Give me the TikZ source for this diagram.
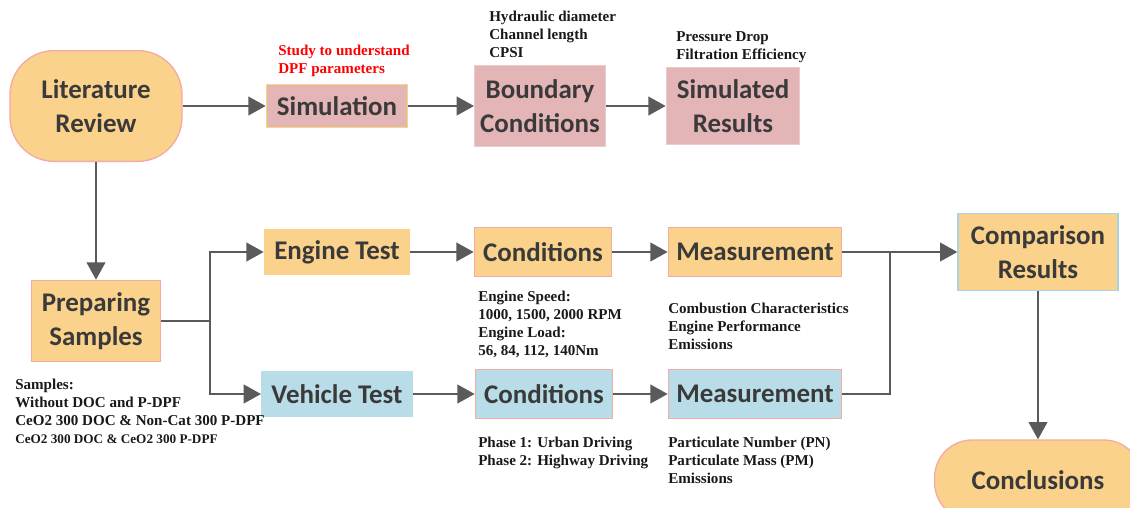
\documentclass[tikz,border=0pt]{standalone}
\usepackage{fontspec}
\setmainfont{Liberation Serif}
\newfontfamily\boxfont{Carlito}
\usetikzlibrary{arrows.meta}
\definecolor{boxorange}{HTML}{FAD28B}
\definecolor{boxpink}{HTML}{E4B5B7}
\definecolor{boxblue}{HTML}{B9DDE8}
\definecolor{edgepink}{HTML}{F3ABA3}
\definecolor{edgeyellow}{HTML}{F8D877}
\definecolor{edgeblue}{HTML}{A8D3E6}
\definecolor{linegray}{HTML}{5A5A5A}
\definecolor{textgray}{HTML}{3A3A3A}
\begin{document}
\begin{tikzpicture}[x=0.75pt, y=-0.75pt,
		box/.style = {draw=edgepink, line width=1pt, inner sep=0pt, align=center, text=textgray,
			font=\boxfont\bfseries\fontsize{20.2}{25.5}\selectfont},
		arr/.style = {draw=linegray, line width=1.6pt, -{Triangle[length=13pt,width=14pt]}},
		line/.style = {draw=linegray, line width=1.6pt},
		note/.style = {anchor=north west, inner sep=0pt, align=left, text=black!90,
			font=\bfseries\fontsize{11.3}{13.5}\selectfont}]
	\useasboundingbox (0,0) rectangle (1130,507);
	% top row: simulation
	\node[box, fill=boxorange, rounded corners=33pt, minimum width=129pt, minimum height=83pt] (lit) at (96,106) {Literature\\Review};
	\node[box, fill=boxpink, draw=edgeyellow, minimum width=106pt, minimum height=32pt] (sim) at (337,106) {Simulation};
	\node[box, fill=boxpink, draw=boxpink!70, minimum width=98pt, minimum height=61pt] (bc) at (540,106) {Boundary\\Conditions};
	\node[box, fill=boxpink, draw=boxpink!70, minimum width=100pt, minimum height=58pt] (sr) at (733,106) {Simulated\\Results};
	% middle and bottom rows: tests
	\node[box, fill=boxorange, minimum width=97pt, minimum height=61pt] (prep) at (96,321) {Preparing\\Samples};
	\node[box, fill=boxorange, draw=boxorange, minimum width=109pt, minimum height=33pt] (eng) at (337,252) {Engine Test};
	\node[box, fill=boxorange, minimum width=103pt, minimum height=37pt] (cond1) at (543,252) {Conditions};
	\node[box, fill=boxorange, minimum width=130pt, minimum height=37pt] (meas1) at (755,252) {Measurement};
	\node[box, fill=boxblue, draw=boxblue, minimum width=113pt, minimum height=34pt] (veh) at (337,394) {Vehicle Test};
	\node[box, fill=boxblue, minimum width=103pt, minimum height=37pt] (cond2) at (544,394) {Conditions};
	\node[box, fill=boxblue, minimum width=130pt, minimum height=37pt] (meas2) at (755,394) {Measurement};
	\node[box, fill=boxorange, draw=edgeblue, minimum width=120pt, minimum height=58pt] (comp) at (1038,252) {Comparison\\Results};
	\node[box, fill=boxorange, rounded corners=28pt, minimum width=155pt, minimum height=60pt] (concl) at (1038,480) {Conclusions};
	% notes
	\node[note, text=red] (study) at (278,45) {Study to understand\\DPF parameters};
	\node[note] (geom) at (489,11) {Hydraulic diameter\\Channel length\\CPSI};
	\node[note] (out) at (676,31) {Pressure Drop\\Filtration Efficiency};
	\node[note] (smp) at (15,379) {Samples:\\Without DOC and P-DPF\\CeO2 300 DOC \& Non-Cat 300 P-DPF\\{\fontsize{9.9}{13}\selectfont CeO2 300 DOC \& CeO2 300 P-DPF}};
	\node[note] (load) at (478,291) {Engine Speed:\\1000, 1500, 2000 RPM\\Engine Load:\\56, 84, 112, 140Nm};
	\node[note] (perf) at (668,303) {Combustion Characteristics\\Engine Performance\\Emissions};
	\node[note] (phase) at (478,437) {Phase 1: Urban Driving\\Phase 2: Highway Driving};
	\node[note] (part) at (668,437) {Particulate Number (PN)\\Particulate Mass (PM)\\Emissions};
	% connectors
	\coordinate (split) at (210,321);
	\coordinate (join) at (890,252);
	\draw[arr] (lit) -- (sim);
	\draw[arr] (sim) -- (bc);
	\draw[arr] (bc) -- (sr);
	\draw[arr] (lit) -- (prep);
	\draw[line] (prep) -- (split);
	\draw[arr] (split) |- (eng);
	\draw[arr] (split) |- (veh);
	\draw[arr] (eng) -- (cond1);
	\draw[arr] (cond1) -- (meas1);
	\draw[arr] (veh) -- (cond2);
	\draw[arr] (cond2) -- (meas2);
	\draw[arr] (meas1) -- (comp);
	\draw[line] (meas2) -| (join);
	\draw[arr] (comp) -- (concl);
\end{tikzpicture}
\end{document}
